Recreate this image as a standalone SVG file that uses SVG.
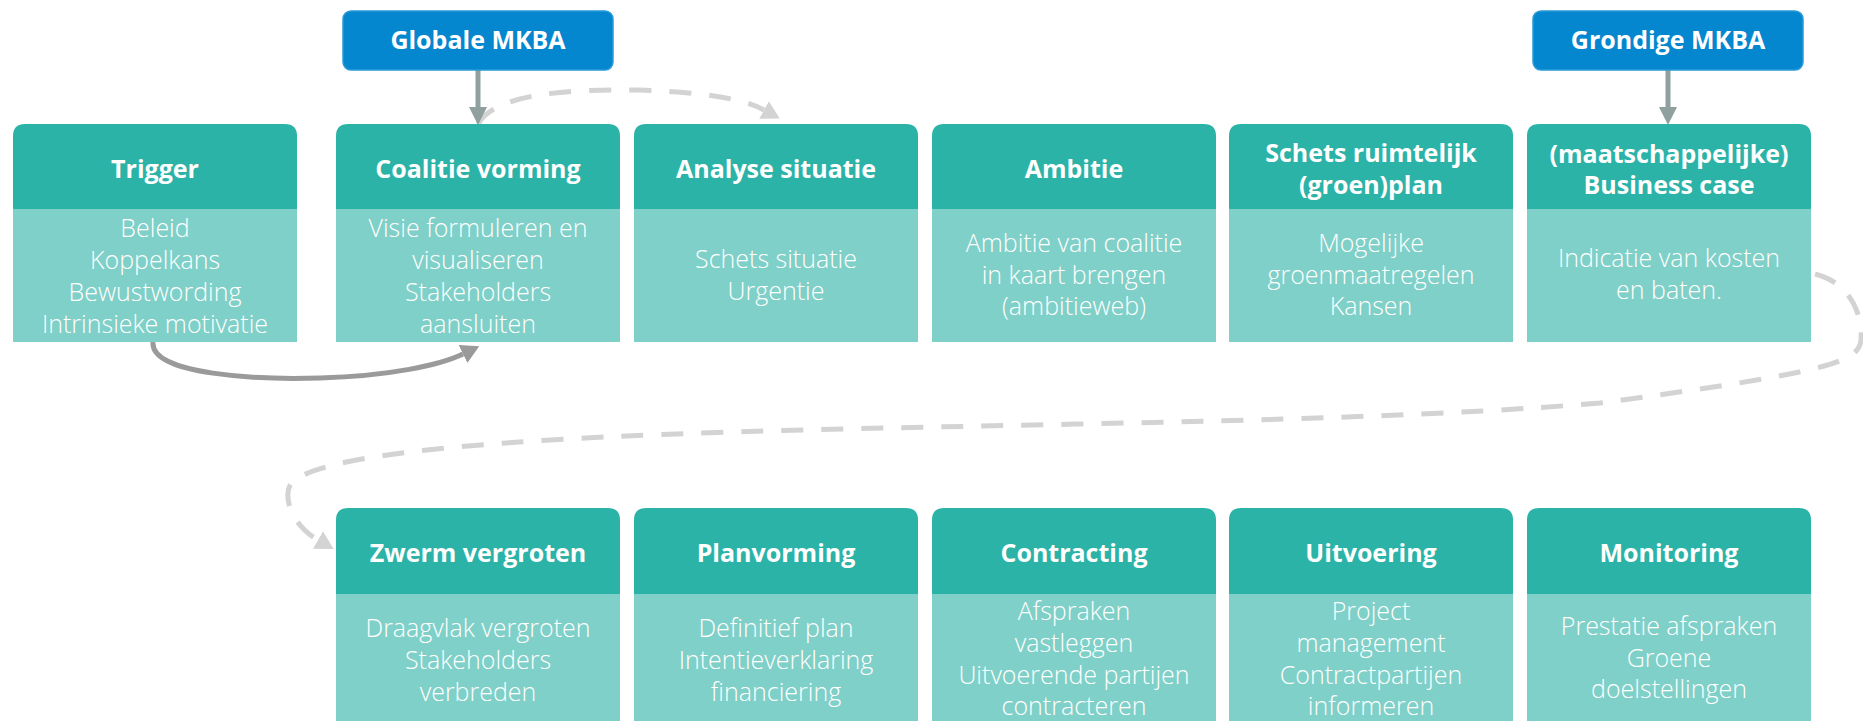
<svg xmlns="http://www.w3.org/2000/svg" width="1863" height="721" viewBox="0 0 1863 721">
<defs>
<style>
.hd{fill:#2cb3a7}
.bd{fill:#7fd0c8}
.bl{fill:#0487cf;stroke:#2a9ad8;stroke-width:1.5}
.t{font-family:"Open Sans","Noto Sans",sans-serif;font-weight:700;font-size:25px;fill:#fff;text-anchor:middle}
.b{font-family:"Open Sans","Noto Sans",sans-serif;font-weight:300;font-size:25px;fill:#fff;text-anchor:middle}
.steel{fill:none;stroke:#8fa09e;stroke-width:5}
.solid{fill:none;stroke:#9a9a9a;stroke-width:5}
.dash{fill:none;stroke:#d3d3d3;stroke-width:5;stroke-dasharray:22 18}
</style>
<marker id="ahSteel" viewBox="0 0 18 18" refX="0" refY="9" markerWidth="18" markerHeight="18" markerUnits="userSpaceOnUse" orient="auto"><path d="M0,0 L18,9 L0,18 z" fill="#8fa09e"/></marker>
<marker id="ahSolid" viewBox="0 0 18 20" refX="0" refY="10" markerWidth="18" markerHeight="20" markerUnits="userSpaceOnUse" orient="auto"><path d="M0,0 L18,10 L0,20 z" fill="#9a9a9a"/></marker>
<marker id="ahDash" viewBox="0 0 18 20" refX="0" refY="10" markerWidth="18" markerHeight="20" markerUnits="userSpaceOnUse" orient="auto"><path d="M0,0 L18,10 L0,20 z" fill="#d3d3d3"/></marker>
</defs>
<rect width="1863" height="721" fill="#fff"/>

<g id="connectors">
<path class="dash" d="M1815,274 C1848,282 1863,312 1861,340 C1859,362 1830,372 1600,403 C1300,428 850,422 550,440 C420,448 318,460 292,482 C282,494 290,524 318,540" marker-end="url(#ahDash)"/>
<path class="dash" d="M478,124 C495,94 565,89 640,90 C700,92 742,98 764,110" marker-end="url(#ahDash)"/>
<path class="solid" d="M153,342 C150,375 260,380 320,378 C390,376 440,365 463,354" marker-end="url(#ahSolid)"/>
<path class="steel" d="M478,70 L478,107" marker-end="url(#ahSteel)"/>
<path class="steel" d="M1668,70 L1668,107" marker-end="url(#ahSteel)"/>
</g>

<g id="globale-mkba">
<rect class="bl" x="343" y="11" width="270" height="59" rx="8"/>
<text class="t" x="478" y="49">Globale MKBA</text>
</g>
<g id="grondige-mkba">
<rect class="bl" x="1533" y="11" width="270" height="59" rx="8"/>
<text class="t" x="1668" y="49">Grondige MKBA</text>
</g>

<g id="trigger">
<path class="hd" d="M13,209 V136 Q13,124 25,124 H285 Q297,124 297,136 V209 Z"/>
<rect class="bd" x="13" y="209" width="284" height="133"/>
<text class="t" x="155" y="178">Trigger</text>
<text class="b" x="155" y="237">Beleid</text>
<text class="b" x="155" y="269">Koppelkans</text>
<text class="b" x="155" y="301">Bewustwording</text>
<text class="b" x="155" y="333">Intrinsieke motivatie</text>
</g>

<g id="coalitie-vorming">
<path class="hd" d="M336,209 V136 Q336,124 348,124 H608 Q620,124 620,136 V209 Z"/>
<rect class="bd" x="336" y="209" width="284" height="133"/>
<text class="t" x="478" y="178">Coalitie vorming</text>
<text class="b" x="478" y="237">Visie formuleren en</text>
<text class="b" x="478" y="269">visualiseren</text>
<text class="b" x="478" y="301">Stakeholders</text>
<text class="b" x="478" y="333">aansluiten</text>
</g>

<g id="analyse-situatie">
<path class="hd" d="M634,209 V136 Q634,124 646,124 H906 Q918,124 918,136 V209 Z"/>
<rect class="bd" x="634" y="209" width="284" height="133"/>
<text class="t" x="776" y="178">Analyse situatie</text>
<text class="b" x="776" y="268">Schets situatie</text>
<text class="b" x="776" y="300">Urgentie</text>
</g>

<g id="ambitie">
<path class="hd" d="M932,209 V136 Q932,124 944,124 H1204 Q1216,124 1216,136 V209 Z"/>
<rect class="bd" x="932" y="209" width="284" height="133"/>
<text class="t" x="1074" y="178">Ambitie</text>
<text class="b" x="1074" y="252">Ambitie van coalitie</text>
<text class="b" x="1074" y="284">in kaart brengen</text>
<text class="b" x="1074" y="315">(ambitieweb)</text>
</g>

<g id="schets-ruimtelijk">
<path class="hd" d="M1229,209 V136 Q1229,124 1241,124 H1501 Q1513,124 1513,136 V209 Z"/>
<rect class="bd" x="1229" y="209" width="284" height="133"/>
<text class="t" x="1371" y="162">Schets ruimtelijk</text>
<text class="t" x="1371" y="194">(groen)plan</text>
<text class="b" x="1371" y="252">Mogelijke</text>
<text class="b" x="1371" y="284">groenmaatregelen</text>
<text class="b" x="1371" y="315">Kansen</text>
</g>

<g id="business-case">
<path class="hd" d="M1527,209 V136 Q1527,124 1539,124 H1799 Q1811,124 1811,136 V209 Z"/>
<rect class="bd" x="1527" y="209" width="284" height="133"/>
<text class="t" x="1669" y="163">(maatschappelijke)</text>
<text class="t" x="1669" y="194">Business case</text>
<text class="b" x="1669" y="267">Indicatie van kosten</text>
<text class="b" x="1669" y="299">en baten.</text>
</g>

<g id="zwerm-vergroten">
<path class="hd" d="M336,594 V520 Q336,508 348,508 H608 Q620,508 620,520 V594 Z"/>
<rect class="bd" x="336" y="594" width="284" height="127"/>
<text class="t" x="478" y="562">Zwerm vergroten</text>
<text class="b" x="478" y="637">Draagvlak vergroten</text>
<text class="b" x="478" y="669">Stakeholders</text>
<text class="b" x="478" y="701">verbreden</text>
</g>

<g id="planvorming">
<path class="hd" d="M634,594 V520 Q634,508 646,508 H906 Q918,508 918,520 V594 Z"/>
<rect class="bd" x="634" y="594" width="284" height="127"/>
<text class="t" x="776" y="562">Planvorming</text>
<text class="b" x="776" y="637">Definitief plan</text>
<text class="b" x="776" y="669">Intentieverklaring</text>
<text class="b" x="776" y="701">financiering</text>
</g>

<g id="contracting">
<path class="hd" d="M932,594 V520 Q932,508 944,508 H1204 Q1216,508 1216,520 V594 Z"/>
<rect class="bd" x="932" y="594" width="284" height="127"/>
<text class="t" x="1074" y="562">Contracting</text>
<text class="b" x="1074" y="620">Afspraken</text>
<text class="b" x="1074" y="652">vastleggen</text>
<text class="b" x="1074" y="684">Uitvoerende partijen</text>
<text class="b" x="1074" y="715">contracteren</text>
</g>

<g id="uitvoering">
<path class="hd" d="M1229,594 V520 Q1229,508 1241,508 H1501 Q1513,508 1513,520 V594 Z"/>
<rect class="bd" x="1229" y="594" width="284" height="127"/>
<text class="t" x="1371" y="562">Uitvoering</text>
<text class="b" x="1371" y="620">Project</text>
<text class="b" x="1371" y="652">management</text>
<text class="b" x="1371" y="684">Contractpartijen</text>
<text class="b" x="1371" y="715">informeren</text>
</g>

<g id="monitoring">
<path class="hd" d="M1527,594 V520 Q1527,508 1539,508 H1799 Q1811,508 1811,520 V594 Z"/>
<rect class="bd" x="1527" y="594" width="284" height="127"/>
<text class="t" x="1669" y="562">Monitoring</text>
<text class="b" x="1669" y="635">Prestatie afspraken</text>
<text class="b" x="1669" y="667">Groene</text>
<text class="b" x="1669" y="698">doelstellingen</text>
</g>
</svg>
